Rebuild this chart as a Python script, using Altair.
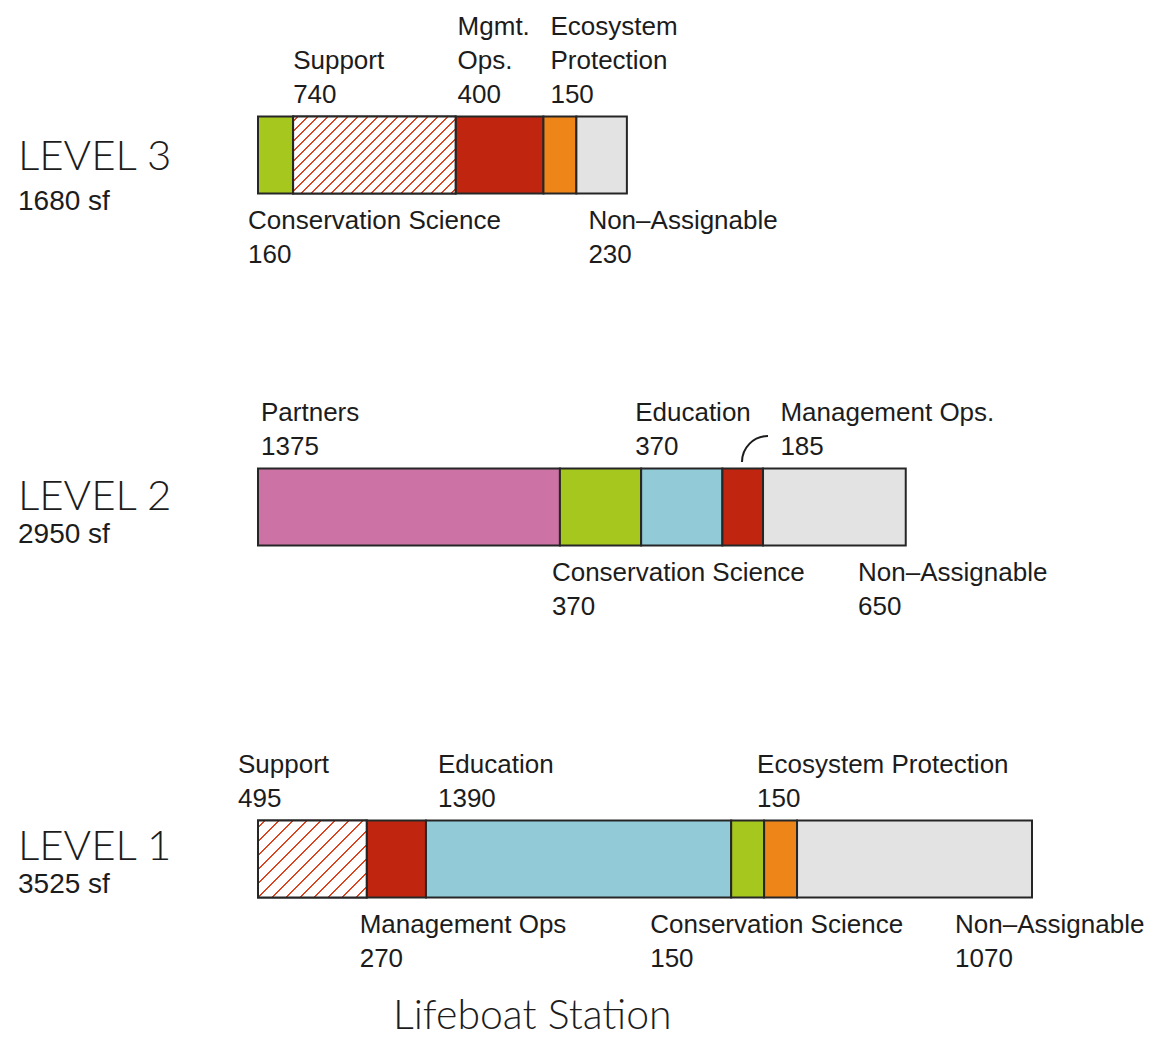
import altair as alt
import pandas as pd

# ---------------- data ----------------
levels = ["LEVEL 3", "LEVEL 2", "LEVEL 1"]
level_areas = ["1680 sf", "2950 sf", "3525 sf"]

l3_keys = ["cons", "support", "mgmt", "eco", "na"]
l3_names = ["Conservation Science", "Support", "Mgmt.\nOps.", "Ecosystem\nProtection", "Non–Assignable"]
l3_values = [160, 740, 400, 150, 230]

l2_keys = ["partners", "cons", "edu", "mgmt", "na"]
l2_names = ["Partners", "Conservation Science", "Education", "Management Ops.", "Non–Assignable"]
l2_values = [1375, 370, 370, 185, 650]

l1_keys = ["support", "mgmt", "edu", "cons", "eco", "na"]
l1_names = ["Support", "Management Ops", "Education", "Conservation Science", "Ecosystem Protection", "Non–Assignable"]
l1_values = [495, 270, 1390, 150, 150, 1070]

title_text = "Lifeboat Station"

# ---------------- styles ----------------
cat_domain = ["cons", "support", "mgmt", "eco", "na", "partners", "edu"]
cat_colors = ["#a6c81e", "#ffffff", "#c0260f", "#ee8519", "#e3e3e3", "#cc72a4", "#93cad8"]
hatch_color = "#d9431f"
ink = "#1c1c1c"
FONT = "Liberation Sans, Arial, sans-serif"
THIN = "Lato, Liberation Sans, sans-serif"

# (level, key) -> (side, dx in px)
label_place = {
    ("LEVEL 3", "cons"): ("below", -10),
    ("LEVEL 3", "support"): ("above", 0),
    ("LEVEL 3", "mgmt"): ("above", 2),
    ("LEVEL 3", "eco"): ("above", 7),
    ("LEVEL 3", "na"): ("below", 12),
    ("LEVEL 2", "partners"): ("above", 3),
    ("LEVEL 2", "cons"): ("below", -8),
    ("LEVEL 2", "edu"): ("above", -6),
    ("LEVEL 2", "mgmt"): ("above", 58),
    ("LEVEL 2", "na"): ("below", 95),
    ("LEVEL 1", "support"): ("above", -20),
    ("LEVEL 1", "mgmt"): ("below", -7),
    ("LEVEL 1", "edu"): ("above", 12),
    ("LEVEL 1", "cons"): ("below", -81),
    ("LEVEL 1", "eco"): ("above", -7),
    ("LEVEL 1", "na"): ("below", 158),
}
level_dy = {"LEVEL 3": (15, 55), "LEVEL 2": (3, 36), "LEVEL 1": (1, 34)}

X_RANGE = [250, 1024]
X_MAX = 3525
BAND = 77
STEP = 352
PAD_IN = 1 - BAND / STEP
Y0 = 108.5
Y_RANGE = [Y0, Y0 + STEP * (3 - PAD_IN)]
LINE_H = 34
LABEL_SIZE = 26

rows = []
for lv, keys, names, vals in [
    ("LEVEL 3", l3_keys, l3_names, l3_values),
    ("LEVEL 2", l2_keys, l2_names, l2_values),
    ("LEVEL 1", l1_keys, l1_names, l1_values),
]:
    for i, (k, n, v) in enumerate(zip(keys, names, vals)):
        rows.append({"level": lv, "key": k, "name": n, "value": v, "order": i,
                     "label": n + "\n" + str(v)})
df = pd.DataFrame(rows)

xscale = alt.Scale(domain=[0, X_MAX], range=X_RANGE, nice=False, zero=False)
yscale = alt.Scale(domain=levels, range=Y_RANGE, paddingInner=PAD_IN, paddingOuter=0)

base = alt.Chart(df).transform_stack(
    stack="value", groupby=["level"], as_=["x0", "x1"],
    sort=[alt.SortField("order", order="ascending")],
)

X = alt.X("x0:Q", scale=xscale, axis=None)
Y = alt.Y("level:N", scale=yscale, axis=None)

bars = base.mark_bar(stroke="#262626", strokeWidth=2).encode(
    x=X, x2="x1:Q", y=Y,
    color=alt.Color("key:N", scale=alt.Scale(domain=cat_domain, range=cat_colors), legend=None),
)

layers = [bars]

# hatched "Support" bars via striped linear gradient
px_per = (X_RANGE[1] - X_RANGE[0]) / X_MAX
for lv, keys, vals, period, lw in [("LEVEL 3", l3_keys, l3_values, 10.0, 1.8),
                                   ("LEVEL 1", l1_keys, l1_values, 14.0, 2.4)]:
    v = vals[keys.index("support")]
    w = v * px_per
    h = BAND
    c = (w + h) / (w * w + h * h)
    total = w + h
    stops = [alt.GradientStop(offset=0, color="#ffffff")]
    pos = period / 2
    while pos < total:
        a = max((pos - lw / 2) / total, 0)
        b = min((pos + lw / 2) / total, 1)
        stops.append(alt.GradientStop(offset=a, color="#ffffff"))
        stops.append(alt.GradientStop(offset=a, color=hatch_color))
        stops.append(alt.GradientStop(offset=b, color=hatch_color))
        stops.append(alt.GradientStop(offset=b, color="#ffffff"))
        pos += period
    stops.append(alt.GradientStop(offset=1, color="#ffffff"))
    grad = alt.LinearGradient(gradient="linear", stops=stops, x1=0, y1=0, x2=c * w, y2=c * h)
    hatch = base.transform_filter(
        (alt.datum.level == lv) & (alt.datum.key == "support")
    ).mark_bar(fill=grad, stroke="#262626", strokeWidth=2).encode(x=X, x2="x1:Q", y=Y)
    layers.append(hatch)

# segment labels
for (lv, key), (side, dx) in label_place.items():
    name = df[(df.level == lv) & (df.key == key)]["label"].iloc[0]
    n = name.count("\n") + 1
    if side == "above":
        dy = -(BAND / 2 + 14) - (n - 1) * LINE_H
    else:
        dy = BAND / 2 + 35
    t = base.transform_filter(
        (alt.datum.level == lv) & (alt.datum.key == key)
    ).mark_text(
        align="left", baseline="alphabetic", dx=dx, dy=dy, lineBreak="\n",
        lineHeight=LINE_H, font=FONT, fontSize=LABEL_SIZE, color=ink,
    ).encode(x=X, y=Y, text="label:N")
    layers.append(t)

# level titles
lvl_df = pd.DataFrame({"level": levels, "area": level_areas})
for lv in levels:
    d1, d2 = level_dy[lv]
    lc = alt.Chart(lvl_df).transform_filter(alt.datum.level == lv)
    layers.append(lc.mark_text(align="left", baseline="alphabetic", dy=d1, font=THIN,
                               fontWeight=300, fontSize=42, color=ink).encode(
        x=alt.value(10), y=Y, text="level:N"))
    layers.append(lc.mark_text(align="left", baseline="alphabetic", dy=d2, font=FONT,
                               fontSize=28, color=ink).encode(
        x=alt.value(10), y=Y, text="area:N"))

# leader arc for Management Ops. 185 (Level 2)
arc = alt.Chart(pd.DataFrame({"a": [0]})).mark_arc(
    theta=4.712389, theta2=6.283185, radius=26, radius2=26,
    fillOpacity=0, stroke=ink, strokeWidth=2,
).encode(x=alt.value(760), y=alt.value(454))
layers.append(arc)

# bottom title
title = alt.Chart(pd.DataFrame({"t": [title_text]})).mark_text(
    align="left", baseline="alphabetic", font=THIN, fontWeight=300,
    fontSize=41, color=ink,
).encode(x=alt.value(385), y=alt.value(1021), text="t:N")
layers.append(title)

chart = alt.layer(*layers).properties(
    width=1136, height=1022, autosize="none", padding=0,
).configure(background="#ffffff").configure_view(strokeWidth=0)

chart.save("out.html", embed_options={"renderer": "svg", "actions": False})
